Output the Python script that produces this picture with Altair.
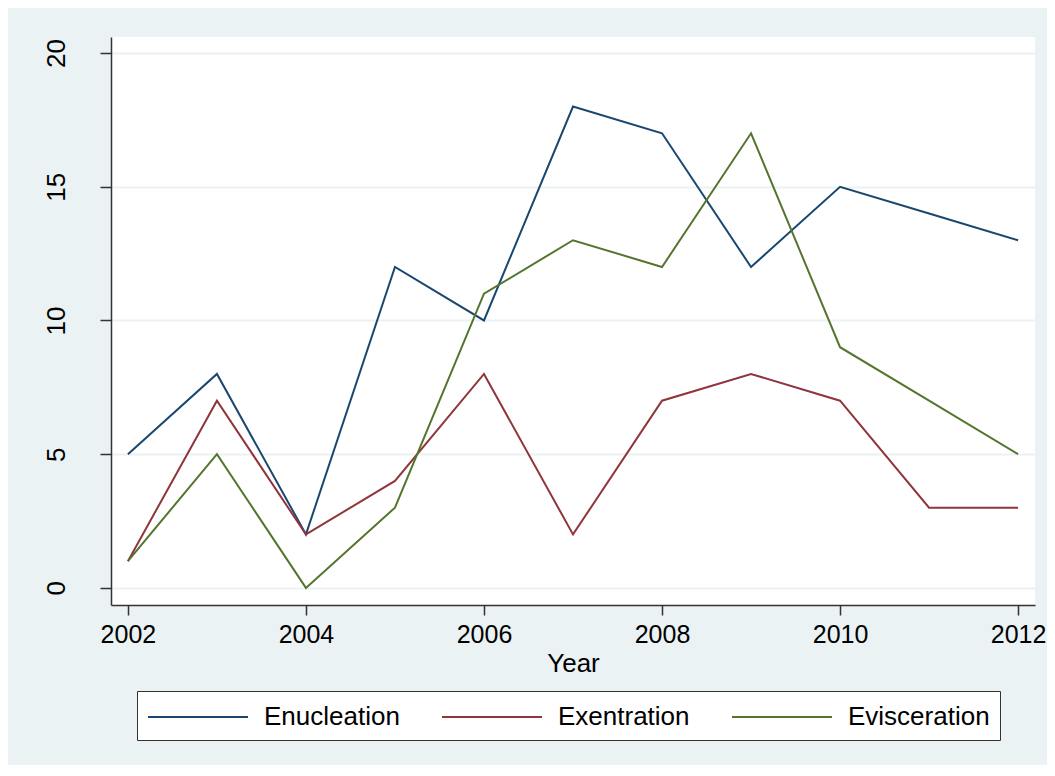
import altair as alt
import pandas as pd

years = [2002, 2003, 2004, 2005, 2006, 2007, 2008, 2009, 2010, 2011, 2012]
enucleation = [5, 8, 2, 12, 10, 18, 17, 12, 15, 14, 13]
exentration = [1, 7, 2, 4, 8, 2, 7, 8, 7, 3, 3]
evisceration = [1, 5, 0, 3, 11, 13, 12, 17, 9, 7, 5]

series = ["Enucleation", "Exentration", "Evisceration"]
colors = ["#1a476f", "#90353b", "#55752f"]
x_ticks = [2002, 2004, 2006, 2008, 2010, 2012]
y_ticks = [0, 5, 10, 15, 20]

rows = []
for name, vals in zip(series, [enucleation, exentration, evisceration]):
    for yr, v in zip(years, vals):
        rows.append({"Year": yr, "Count": v, "Series": name})
df = pd.DataFrame(rows)

FONT = "Liberation Sans"
FS = 26

chart = alt.Chart(df).mark_line(strokeWidth=2).encode(
    x=alt.X("Year:Q",
            scale=alt.Scale(domain=[2001.81, 2012.19], nice=False, zero=False),
            axis=alt.Axis(values=x_ticks, format="d", title="Year", grid=False,
                          tickSize=10, labelPadding=7, titlePadding=3,
                          labelFontSize=25, titleFontSize=FS, labelFlush=False)),
    y=alt.Y("Count:Q",
            scale=alt.Scale(domain=[-0.64, 20.6], nice=False, zero=False),
            axis=alt.Axis(values=y_ticks, title=None, grid=True, tickSize=11,
                          labelAngle=270, labelAlign="center", labelBaseline="bottom",
                          labelPadding=31, labelFontSize=FS, labelFlush=False)),
    color=alt.Color("Series:N",
                    scale=alt.Scale(domain=series, range=colors),
                    sort=series,
                    legend=alt.Legend(title=None, orient="none", direction="horizontal",
                                      legendX=26, legendY=654,
                                      symbolType="M-3.333,0H3.333",
                                      symbolSize=900, symbolOffset=35,
                                      symbolStrokeWidth=2,
                                      labelFontSize=FS, labelOffset=50,
                                      columnPadding=38, padding=10,
                                      strokeColor="#333333", fillColor="white",
                                      labelColor="black")),
).properties(
    width=924, height=568,
    padding={"left": 103, "top": 29, "right": 12, "bottom": 160},
    autosize=alt.AutoSizeParams(type="none"),
    background="#eaf2f3",
).configure_view(
    fill="white", stroke=None
).configure_axis(
    labelFont=FONT, titleFont=FONT, labelColor="black", titleColor="black",
    titleFontWeight="normal", domainColor="#333333", domainWidth=1.5,
    tickColor="#333333", tickWidth=1.5, gridColor="#eaf2f3", gridWidth=2,
).configure_legend(
    labelFont=FONT
)

chart.save("out.html", embed_options={"renderer": "svg", "actions": False})
